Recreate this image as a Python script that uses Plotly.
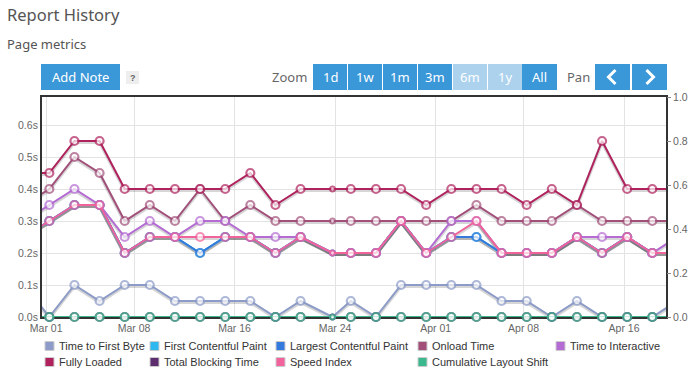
import plotly.graph_objects as go

# ---------------- data ----------------
dates = [
    "2023-02-27 06:00",
    "2023-03-01 06:00", "2023-03-03 06:00", "2023-03-05 06:00", "2023-03-07 06:00",
    "2023-03-09 06:00", "2023-03-11 06:00", "2023-03-13 06:00", "2023-03-15 06:00",
    "2023-03-17 06:00", "2023-03-19 06:00", "2023-03-21 06:00", "2023-03-23 19:00",
    "2023-03-25 06:00", "2023-03-27 06:00", "2023-03-29 06:00", "2023-03-31 06:00",
    "2023-04-02 06:00", "2023-04-04 06:00", "2023-04-06 06:00", "2023-04-08 06:00",
    "2023-04-10 06:00", "2023-04-12 06:00", "2023-04-14 06:00", "2023-04-16 06:00",
    "2023-04-18 06:00",
    "2023-04-20 06:00",
]
ttfb = [0.10, 0.00, 0.10, 0.05, 0.10, 0.10, 0.05, 0.05, 0.05, 0.05, 0.00, 0.05, 0.00, 0.05,
        0.00, 0.10, 0.10, 0.10, 0.10, 0.05, 0.05, 0.00, 0.05, 0.00, 0.00, 0.00, 0.05]
fcp = [0.25, 0.30, 0.35, 0.35, 0.20, 0.25, 0.25, 0.20, 0.25, 0.25, 0.20, 0.25, 0.20, 0.20,
       0.20, 0.30, 0.20, 0.25, 0.25, 0.20, 0.20, 0.20, 0.25, 0.20, 0.25, 0.20, 0.20]
lcp = [0.25, 0.30, 0.35, 0.35, 0.20, 0.25, 0.25, 0.20, 0.25, 0.25, 0.20, 0.25, 0.20, 0.20,
       0.20, 0.30, 0.20, 0.25, 0.25, 0.20, 0.20, 0.20, 0.25, 0.20, 0.25, 0.20, 0.20]
onload = [0.35, 0.40, 0.50, 0.45, 0.30, 0.35, 0.30, 0.40, 0.30, 0.35, 0.30, 0.30, 0.30, 0.30,
          0.30, 0.30, 0.30, 0.30, 0.35, 0.30, 0.30, 0.30, 0.35, 0.30, 0.30, 0.30, 0.30]
tti = [0.30, 0.35, 0.40, 0.35, 0.25, 0.30, 0.25, 0.30, 0.30, 0.25, 0.25, 0.25, 0.20, 0.20,
       0.20, 0.30, 0.20, 0.30, 0.30, 0.20, 0.20, 0.20, 0.25, 0.25, 0.25, 0.20, 0.25]
fully_loaded = [0.45, 0.45, 0.55, 0.55, 0.40, 0.40, 0.40, 0.40, 0.40, 0.45, 0.35, 0.40, 0.40,
                0.40, 0.40, 0.40, 0.35, 0.40, 0.40, 0.40, 0.35, 0.40, 0.35, 0.55, 0.40, 0.40, 0.40]
tbt = [0.0] * 27
speed_index = [0.25, 0.30, 0.35, 0.35, 0.20, 0.25, 0.25, 0.25, 0.25, 0.25, 0.20, 0.25, 0.20,
               0.20, 0.20, 0.30, 0.20, 0.25, 0.30, 0.20, 0.20, 0.20, 0.25, 0.20, 0.25, 0.20, 0.20]
cls = [0.0] * 27

series_names = ["Time to First Byte", "First Contentful Paint", "Largest Contentful Paint",
                "Onload Time", "Time to Interactive", "Fully Loaded", "Total Blocking Time",
                "Speed Index", "Cumulative Layout Shift"]
series_values = [ttfb, fcp, lcp, onload, tti, fully_loaded, tbt, speed_index, cls]
series_colors = ["#8c9bc8", "#2fb8ef", "#3479dc", "#a24f7a", "#b46bd3", "#b0225e",
                 "#5d2d6d", "#f0639b", "#3cb88e"]
series_right = [False, False, False, False, False, False, False, False, True]

x_tick_vals = ["2023-03-01", "2023-03-08", "2023-03-16", "2023-03-24",
               "2023-04-01", "2023-04-08", "2023-04-16"]
x_tick_text = ["Mar 01", "Mar 08", "Mar 16", "Mar 24", "Apr 01", "Apr 08", "Apr 16"]
y_tick_vals = [0.0, 0.1, 0.2, 0.3, 0.4, 0.5, 0.6]
y_tick_text = ["0.0s", "0.1s", "0.2s", "0.3s", "0.4s", "0.5s", "0.6s"]
y2_tick_vals = [0.0, 0.2, 0.4, 0.6, 0.8, 1.0]
y2_tick_text = ["0.0", "0.2", "0.4", "0.6", "0.8", "1.0"]
zoom_buttons = ["1d", "1w", "1m", "3m", "6m", "1y", "All"]
zoom_disabled = ["6m", "1y"]

# ---------------- geometry helpers ----------------
W, H = 694, 373
L, R, T, B = 42, 666, 97, 317
Y_MAX = 0.6875
X_RANGE = ["2023-02-28 16:00", "2023-04-19 08:10"]
SHADOW_PX = 1.2  # shadow offset in pixels (downwards)
y_shift = SHADOW_PX * Y_MAX / (B - T)


def px(x):
    return (x - L) / (R - L)


def py(y):
    return (B - y) / (B - T)


BLUE = "#3a97d8"
LIGHT = "#acd2ee"
AX_FONT = "Liberation Sans, Arial, sans-serif"
HD_FONT = "Noto Sans, Open Sans, sans-serif"

fig = go.Figure()

# points inside the visible window (first and last entries lie just outside it)
vis = slice(1, len(dates) - 1)
marker_sizes = [8] * len(dates)
marker_sizes[12] = 5

# base subplot holder (keeps the visible left axis and grid alive)
fig.add_trace(go.Scatter(x=[X_RANGE[0]], y=[None], yaxis="y", mode="lines",
                         hoverinfo="skip", showlegend=False))

# shadows (on a hidden overlay axis shifted by ~one pixel)
for name, vals, right in zip(series_names, series_values, series_right):
    if right:
        continue
    fig.add_trace(go.Scatter(
        x=dates, y=vals, name=name, yaxis="y2", mode="lines",
        line=dict(color="rgba(0,0,0,0.16)", width=3.5),
        hoverinfo="skip", showlegend=False,
    ))

for name, vals, col, right in zip(series_names, series_values, series_colors, series_right):
    ax = "y4" if right else "y3"
    fig.add_trace(go.Scatter(
        x=dates, y=vals, name=name, yaxis=ax, mode="lines",
        line=dict(color=col, width=2), hoverinfo="skip", showlegend=False,
    ))
    fig.add_trace(go.Scatter(
        x=dates[vis], y=vals[vis], name=name, yaxis=ax, mode="markers",
        marker=dict(symbol="circle", size=marker_sizes[vis], color="white",
                    line=dict(color=col, width=2.2)),
        showlegend=False, cliponaxis=False,
    ))

shapes = []
annotations = []

# titles
annotations.append(dict(x=px(5), y=py(15), xref="paper", yref="paper", text="Report History",
                        showarrow=False, xanchor="left", yanchor="middle",
                        font=dict(family=HD_FONT, size=16.5, color="#555")))
annotations.append(dict(x=px(5), y=py(44), xref="paper", yref="paper", text="Page metrics",
                        showarrow=False, xanchor="left", yanchor="middle",
                        font=dict(family=HD_FONT, size=13, color="#555")))

# Add Note button
shapes.append(dict(type="rect", xref="paper", yref="paper", x0=px(41), x1=px(120),
                   y0=py(64), y1=py(90), fillcolor=BLUE, line=dict(width=0), layer="above"))
annotations.append(dict(x=px(80.5), y=py(77), xref="paper", yref="paper", text="Add Note",
                        showarrow=False, xanchor="center", yanchor="middle",
                        font=dict(family=HD_FONT, size=13, color="white")))
shapes.append(dict(type="rect", xref="paper", yref="paper", x0=px(126), x1=px(139),
                   y0=py(71), y1=py(84), fillcolor="#eeeeee", line=dict(width=0), layer="above"))
annotations.append(dict(x=px(132.5), y=py(77.5), xref="paper", yref="paper", text="<b>?</b>",
                        showarrow=False, xanchor="center", yanchor="middle",
                        font=dict(family=AX_FONT, size=9, color="#666")))

# Zoom
annotations.append(dict(x=px(309), y=py(77), xref="paper", yref="paper", text="Zoom",
                        showarrow=False, xanchor="right", yanchor="middle",
                        font=dict(family=HD_FONT, size=13, color="#666")))
bx = [313, 348, 383, 418, 453, 488, 522]
for i, lab in enumerate(zoom_buttons):
    x0 = bx[i]
    x1 = x0 + 34 if i < len(bx) - 1 else 557
    col = LIGHT if lab in zoom_disabled else BLUE
    shapes.append(dict(type="rect", xref="paper", yref="paper", x0=px(x0), x1=px(x1),
                       y0=py(64), y1=py(90), fillcolor=col, line=dict(width=0), layer="above"))
    annotations.append(dict(x=px((x0 + x1) / 2), y=py(77), xref="paper", yref="paper", text=lab,
                            showarrow=False, xanchor="center", yanchor="middle",
                            font=dict(family=HD_FONT, size=13, color="white")))

# Pan
annotations.append(dict(x=px(592), y=py(77), xref="paper", yref="paper", text="Pan",
                        showarrow=False, xanchor="right", yanchor="middle",
                        font=dict(family=HD_FONT, size=13, color="#666")))
for (x0, x1, d) in [(595, 630, -1), (632, 667, 1)]:
    shapes.append(dict(type="rect", xref="paper", yref="paper", x0=px(x0), x1=px(x1),
                       y0=py(64), y1=py(90), fillcolor=BLUE, line=dict(width=0), layer="above"))
    cx = (x0 + x1) / 2
    pth = "M {a},{b} L {c},{d} L {a},{e}".format(
        a=px(cx - 3 * d), b=py(70), c=px(cx + 4 * d), d=py(77), e=py(84))
    shapes.append(dict(type="path", xref="paper", yref="paper", path=pth,
                       line=dict(color="white", width=3), layer="above"))

# legend (manual)
leg_cols = [45, 150, 276, 418, 556]
leg_rows = [346, 362]
for k, (name, col) in enumerate(zip(series_names, series_colors)):
    r, c = divmod(k, 5)
    x0 = leg_cols[c]
    yc = leg_rows[r]
    shapes.append(dict(type="rect", xref="paper", yref="paper", x0=px(x0), x1=px(x0 + 9),
                       y0=py(yc - 4.5), y1=py(yc + 4.5), fillcolor=col,
                       line=dict(color="#cccccc", width=1)))
    annotations.append(dict(x=px(x0 + 12), y=py(yc), xref="paper", yref="paper", text=name,
                            showarrow=False, xanchor="left", yanchor="middle",
                            font=dict(family=AX_FONT, size=11, color="#333")))

fig.update_layout(
    width=W, height=H,
    margin=dict(l=L, r=W - R, t=T, b=H - B, pad=0, autoexpand=False),
    paper_bgcolor="white", plot_bgcolor="white",
    showlegend=False,
    shapes=shapes, annotations=annotations,
    xaxis=dict(type="date", range=X_RANGE,
               tickvals=x_tick_vals, ticktext=x_tick_text,
               showgrid=True, gridcolor="#e3e3e3", gridwidth=1,
               showline=True, linecolor="#333", linewidth=2, mirror=True,
               ticks="", tickfont=dict(family=AX_FONT, size=10.5, color="#666"),
               zeroline=False, fixedrange=True, automargin=False, layer="below traces"),
    yaxis=dict(range=[0, Y_MAX], tickvals=y_tick_vals, ticktext=y_tick_text,
               showgrid=True, gridcolor="#e3e3e3", gridwidth=1,
               showline=True, linecolor="#333", linewidth=2, mirror=True,
               ticks="", tickfont=dict(family=AX_FONT, size=10.5, color="#666"),
               zeroline=False, fixedrange=True, automargin=False, layer="below traces"),
    yaxis2=dict(range=[y_shift, Y_MAX + y_shift], overlaying="y", side="left",
                showticklabels=False, ticks="", showline=False,
                showgrid=False, zeroline=False, fixedrange=True),
    yaxis3=dict(range=[0, Y_MAX], overlaying="y", side="left",
                showticklabels=False, ticks="", showline=False,
                showgrid=False, zeroline=False, fixedrange=True),
    yaxis4=dict(range=[0, 1.0], tickvals=y2_tick_vals, ticktext=y2_tick_text,
                overlaying="y", side="right", showgrid=False, zeroline=False,
                ticks="outside", ticklen=4, tickcolor="#888",
                tickfont=dict(family=AX_FONT, size=10.5, color="#666"), fixedrange=True,
                automargin=False),
)

fig.write_html("out.html", config={"displayModeBar": False},
               post_script="document.body.style.margin='0';document.body.style.overflow='hidden';")
